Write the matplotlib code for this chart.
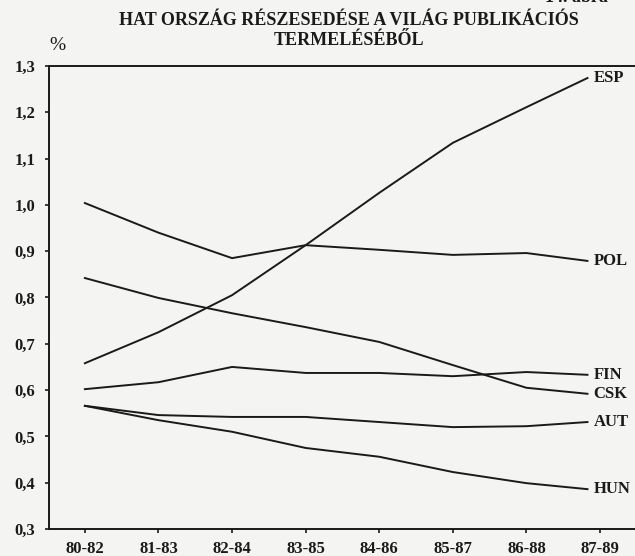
import matplotlib
matplotlib.use("Agg")
import matplotlib.pyplot as plt

periods = ["80-82", "81-83", "82-84", "83-85", "84-86", "85-87", "86-88", "87-89"]

esp = [0.658, 0.725, 0.805, 0.913, 1.026, 1.134, 1.211, 1.274]
pol = [1.004, 0.940, 0.885, 0.913, 0.903, 0.892, 0.896, 0.879]
csk = [0.842, 0.799, 0.766, 0.736, 0.704, 0.654, 0.605, 0.592]
fin = [0.602, 0.617, 0.650, 0.637, 0.637, 0.630, 0.639, 0.633]
aut = [0.566, 0.546, 0.542, 0.542, 0.531, 0.520, 0.522, 0.531]
hun = [0.566, 0.535, 0.510, 0.475, 0.456, 0.423, 0.399, 0.386]

series = {"ESP": esp, "POL": pol, "FIN": fin, "CSK": csk, "AUT": aut, "HUN": hun}

yticks = [0.3, 0.4, 0.5, 0.6, 0.7, 0.8, 0.9, 1.0, 1.1, 1.2, 1.3]

plt.rcParams["font.family"] = ["Liberation Serif", "DejaVu Serif"]
ink = "#1a1a1a"
paper = "#f4f4f2"

fig = plt.figure(figsize=(6.35, 5.56), dpi=100)
fig.patch.set_facecolor(paper)
ax = fig.add_axes([0.077, 0.0486, 0.923, 0.8327])
ax.set_facecolor(paper)

# in the original the lines stop a little short of the last tick
x = list(range(len(periods)))
x[-1] = x[-1] - 0.17
for name, vals in series.items():
    ax.plot(x, vals, color=ink, lw=1.4)
    ax.text(x[-1] + 0.08, vals[-1], name, fontsize=12,
            fontweight="bold", color=ink, va="center", ha="left")

ax.set_xlim(-0.489, 7.476)
ax.set_ylim(0.3, 1.3)
ax.set_xticks(range(len(periods)))
ax.set_xticklabels(periods, fontsize=12, fontweight="bold", color=ink)
ax.set_yticks(yticks)
ax.set_yticklabels([f"{v:.1f}".replace(".", ",") for v in yticks],
                   fontsize=12, fontweight="bold", color=ink)
ax.tick_params(axis="both", length=3, width=1.2, color=ink)
ax.tick_params(axis="x", pad=6)
ax.tick_params(axis="y", pad=7)

ax.spines["right"].set_visible(False)
for s in ["left", "top", "bottom"]:
    ax.spines[s].set_linewidth(1.4)
    ax.spines[s].set_color(ink)

fig.text(0.55, 0.963, "HAT ORSZÁG RÉSZESEDÉSE A VILÁG PUBLIKÁCIÓS",
         ha="center", va="center", fontsize=13, fontweight="bold", color=ink)
fig.text(0.55, 0.928, "TERMELÉSÉBŐL", ha="center", va="center",
         fontsize=13, fontweight="bold", color=ink)
fig.text(0.09, 0.918, "%", ha="center", va="center", fontsize=14, color=ink)
fig.text(0.858, 1.004, "14. ábra", ha="left", va="center", fontsize=13,
         fontweight="bold", color=ink)

fig.savefig("out.png", dpi=100, facecolor=fig.get_facecolor())
